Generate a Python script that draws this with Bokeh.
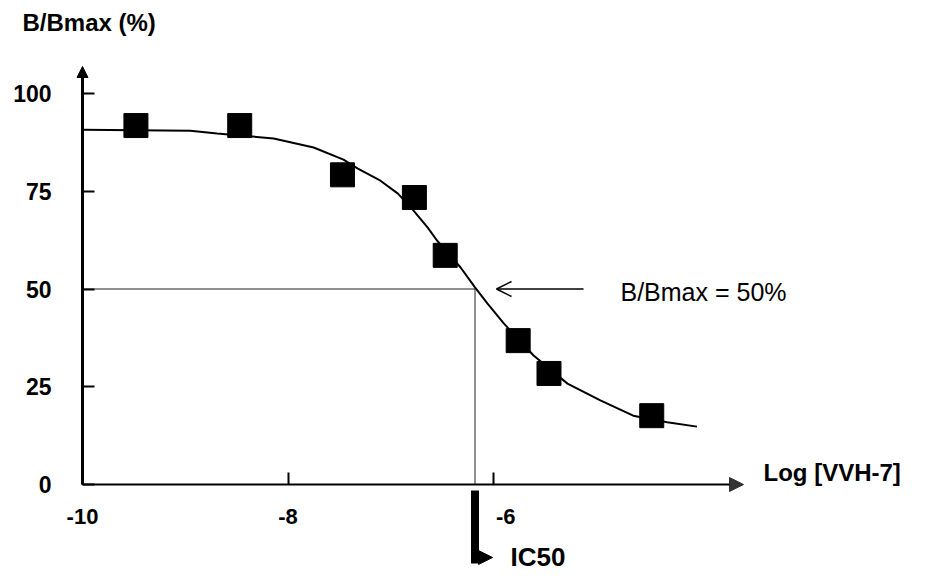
import math
from bokeh.plotting import figure
from bokeh.models import Range1d, FixedTicker, Arrow, NormalHead, OpenHead, Label
from bokeh.embed import file_html
from bokeh.resources import INLINE

# ---- data ----
log_conc = [-9.48, -8.47, -7.47, -6.77, -6.47, -5.76, -5.46, -4.46]
b_bmax = [91.8, 91.8, 79.2, 73.4, 58.6, 36.8, 28.4, 17.6]

fit_x = [-10.0, -8.95, -8.69, -8.35, -8.14, -7.75, -7.46, -7.32, -7.10, -6.93,
         -6.78, -6.64, -6.55, -6.32, -6.18, -6.06, -5.90, -5.61, -5.28, -4.96,
         -4.64, -4.31, -4.02]
fit_y = [90.7, 90.5, 89.8, 89.0, 88.5, 86.2, 83.1, 80.8, 77.7, 74.4,
         70.1, 65.7, 62.4, 55.5, 50.4, 46.3, 41.2, 33.0, 25.8, 21.5,
         17.6, 15.9, 14.8]

ic50_log = -6.18
half_level = 50

x_ticks = [-10, -8, -6]
y_ticks = [0, 25, 50, 75, 100]
x_tick_labels = {-10: "-10", -8: "-8", -6: "\u2007\u2007-6"}

# ---- layout helpers (reference pixel -> data) ----
X0, SX = 82.0, 102.75   # pixel of x=-10, px per unit
Y0, SY = 484.0, 3.91    # pixel of y=0, px per unit


def dx(px):
    return (px - X0) / SX - 10


def dy(py):
    return (Y0 - py) / SY


W, H = 913, 571
p = figure(width=W, height=H, output_backend="svg", toolbar_location=None,
           x_range=Range1d(dx(0), dx(W)), y_range=Range1d(dy(H), dy(0)),
           min_border=0, min_border_left=0, min_border_right=0,
           min_border_top=0, min_border_bottom=0)
p.outline_line_color = None
p.grid.visible = False
p.background_fill_color = "white"
p.border_fill_color = "white"

FONT = "Liberation Sans"

# axes at fixed locations inside the frame
p.xaxis.fixed_location = 0
p.yaxis.fixed_location = -10
for ax in (p.xaxis, p.yaxis):
    ax.axis_line_color = None
    ax.major_tick_in = 12
    ax.major_tick_out = 0
    ax.minor_tick_line_color = None
    ax.major_tick_line_width = 2
    ax.major_tick_line_color = "black"
    ax.major_label_text_font = FONT
    ax.major_label_text_font_style = "bold"
    ax.major_label_text_color = "black"
p.xaxis.ticker = FixedTicker(ticks=x_ticks)
p.xaxis.major_label_overrides = x_tick_labels
p.xaxis.major_label_text_font_size = "22px"
p.xaxis.major_label_standoff = 19
p.yaxis.ticker = FixedTicker(ticks=y_ticks)
p.yaxis.major_label_text_font_size = "23px"
p.yaxis.major_label_standoff = 31

# axis lines with arrowheads
p.add_layout(Arrow(x_start=-10, y_start=0, x_end=-10, y_end=dy(66),
                   line_width=3, line_color="black",
                   end=NormalHead(size=11, fill_color="black", line_color="black")))
p.add_layout(Arrow(x_start=-10, y_start=0, x_end=dx(743), y_end=0,
                   line_width=2, line_color="black",
                   end=NormalHead(size=14, fill_color="#333333", line_color="#333333")))

# IC50 guide lines
p.line([-10, ic50_log, ic50_log], [half_level, half_level, 0],
       line_width=1, line_color="#222222")

# fitted curve and data points
p.line(fit_x, fit_y, line_width=2, line_color="black")
p.scatter(log_conc, b_bmax, marker="square", size=24,
          fill_color="black", line_color="black")

# arrow pointing at the 50 % crossing
p.add_layout(Arrow(x_start=dx(583), y_start=half_level, x_end=dx(496), y_end=half_level,
                   line_width=1.5, line_color="black",
                   end=OpenHead(size=15, line_width=1.5, line_color="black")))

# IC50 indicator (thick bar bending into a right-pointing head)
p.segment(x0=[ic50_log], y0=[dy(490)], x1=[ic50_log], y1=[dy(563)],
          line_width=8, line_color="black")
p.add_layout(Arrow(x_start=ic50_log, y_start=dy(557), x_end=dx(492), y_end=dy(557),
                   line_width=1, line_color="black",
                   end=NormalHead(size=14, fill_color="black", line_color="black")))

# texts (placed by the vertical middle of the text)
p.add_layout(Label(x=dx(22), y=dy(22), text="B/Bmax (%)", text_font=FONT,
                   text_font_style="bold", text_font_size="24px",
                   text_baseline="middle", text_align="left", text_color="black"))
p.add_layout(Label(x=dx(763), y=dy(472), text="Log [VVH-7]", text_font=FONT,
                   text_font_style="bold", text_font_size="24px",
                   text_baseline="middle", text_align="left", text_color="black"))
p.add_layout(Label(x=dx(620), y=dy(291), text="B/Bmax = 50%", text_font=FONT,
                   text_font_size="25px", text_baseline="middle",
                   text_align="left", text_color="black"))
p.add_layout(Label(x=dx(510), y=dy(556), text="IC50", text_font=FONT,
                   text_font_style="bold", text_font_size="26px",
                   text_baseline="middle", text_align="left", text_color="black"))

open("out.html", "w").write(file_html(p, INLINE))
